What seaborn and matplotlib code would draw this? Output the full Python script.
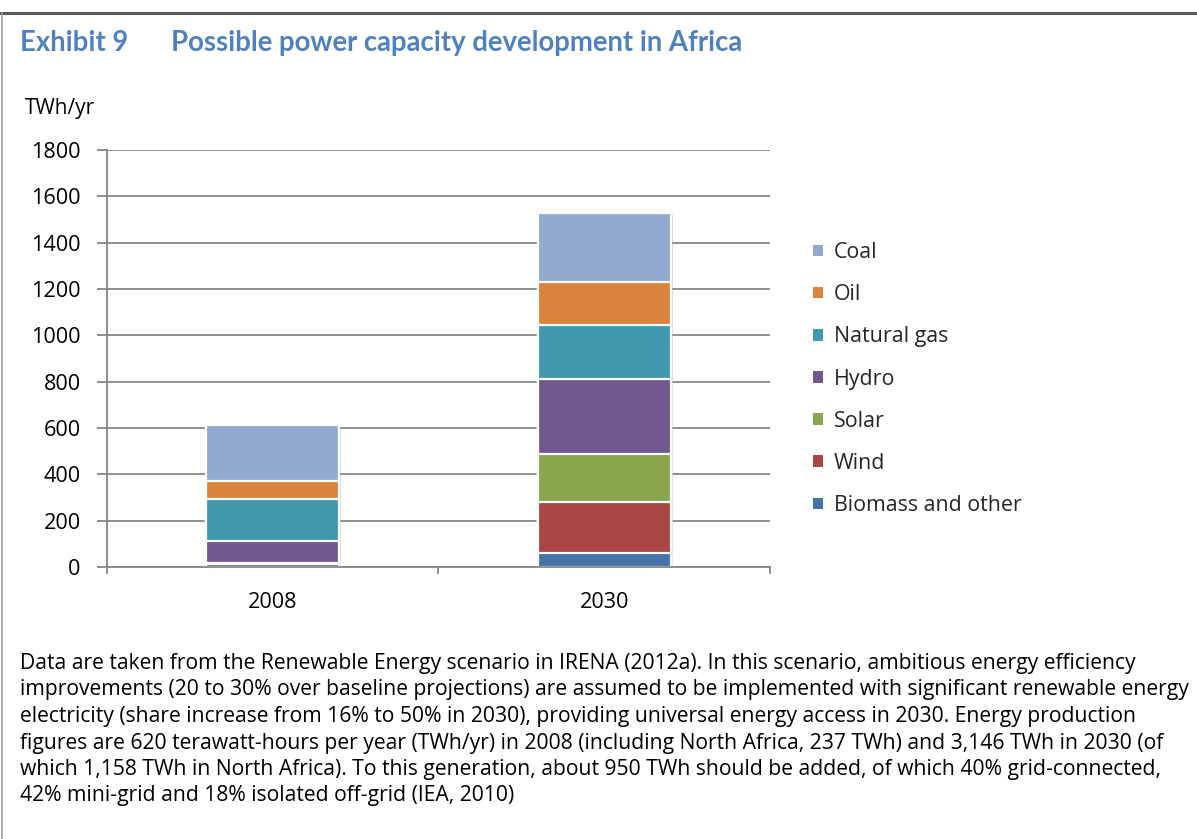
import matplotlib
matplotlib.use("Agg")
import matplotlib.pyplot as plt
from matplotlib.patches import Patch
from matplotlib.lines import Line2D
import matplotlib.patheffects as pe
import seaborn as sns
import pandas as pd

# ---- data (TWh/yr) ----
years = ["2008", "2030"]
sources = ["Biomass and other", "Wind", "Solar", "Hydro", "Natural gas", "Oil", "Coal"]
biomass = [12, 62]
wind = [3, 217]
solar = [2, 209]
hydro = [96, 325]
natural_gas = [180, 232]
oil = [77, 187]
coal = [245, 297]
y_ticks = [0, 200, 400, 600, 800, 1000, 1200, 1400, 1600, 1800]

colors = {
    "Biomass and other": "#4572A7",
    "Wind": "#AA4643",
    "Solar": "#89A54E",
    "Hydro": "#71588F",
    "Natural gas": "#4198AF",
    "Oil": "#DB843D",
    "Coal": "#93A9CF",
}

body_lines = [
    "Data are taken from the Renewable Energy scenario in IRENA (2012a). In this scenario, ambitious energy efficiency",
    "improvements (20 to 30% over baseline projections) are assumed to be implemented with significant renewable energy",
    "electricity (share increase from 16% to 50% in 2030), providing universal energy access in 2030. Energy production",
    "figures are 620 terawatt-hours per year (TWh/yr) in 2008 (including North Africa, 237 TWh) and 3,146 TWh in 2030 (of",
    "which 1,158 TWh in North Africa). To this generation, about 950 TWh should be added, of which 40% grid-connected,",
    "42% mini-grid and 18% isolated off-grid (IEA, 2010)",
]

df = pd.DataFrame({
    "year": years,
    "Biomass and other": biomass,
    "Wind": wind,
    "Solar": solar,
    "Hydro": hydro,
    "Natural gas": natural_gas,
    "Oil": oil,
    "Coal": coal,
})
cum = df[sources].cumsum(axis=1)
cum["year"] = df["year"]

sns.set_theme(style="white")
plt.rcParams['font.family'] = ['Open Sans', 'DejaVu Sans']

W, H = 1197, 839
fig = plt.figure(figsize=(W / 100, H / 100), dpi=100)
fig.patch.set_facecolor("white")

def fx(px):
    return px / W

def fy(py):
    return 1 - py / H

ax = fig.add_axes([fx(107), fy(567), fx(770) - fx(107), fy(150) - fy(567)])

grid_c = "#868686"
first = True
for src in reversed(sources):
    n_before = len(ax.patches)
    sns.barplot(data=cum, x="year", y=src, color=colors[src], width=0.4,
                saturation=1, edgecolor="white", linewidth=1.6, ax=ax, zorder=3)
    if first:
        for p in ax.patches[n_before:]:
            p.set_path_effects([pe.SimplePatchShadow(offset=(1.5, -1.5), shadow_rgbFace="#808080",
                                                     alpha=0.35), pe.Normal()])
        first = False

ax.set_ylim(0, 1800)
ax.set_xlim(-0.5, 1.5)
ax.set_yticks(y_ticks)
ax.set_xlabel("")
ax.set_ylabel("")
ax.yaxis.grid(True, color=grid_c, linewidth=1.3)
ax.xaxis.grid(False)
ax.set_axisbelow(True)
for s in ["top", "right"]:
    ax.spines[s].set_visible(False)
for s in ["left", "bottom"]:
    ax.spines[s].set_color(grid_c)
    ax.spines[s].set_linewidth(1.3)
    ax.spines[s].set_zorder(4)

ax.tick_params(axis="y", which="major", direction="out", length=7, width=1.3,
               color=grid_c, pad=12, labelsize=15.6, labelcolor="#000000", left=True)
ax.tick_params(axis="x", which="major", length=0, pad=18, labelsize=15.6, labelcolor="#000000")
ax.set_xticks([-0.5, 0.5, 1.5], minor=True)
ax.tick_params(axis="x", which="minor", direction="out", length=5, width=1.3,
               color=grid_c, bottom=True)

# legend (top entry = Coal)
handles = [Patch(facecolor=colors[s], edgecolor="none") for s in reversed(sources)]
fig.legend(handles, list(reversed(sources)), loc="upper left",
           bbox_to_anchor=(fx(813), fy(242)), frameon=False, fontsize=15.4,
           handlelength=0.47, handleheight=0.47, handletextpad=0.5,
           labelspacing=0.99, borderpad=0, borderaxespad=0)

# titles
title_c = "#4F81BD"
fig.text(fx(20), fy(51), "Exhibit 9", color=title_c, fontsize=19.8, fontweight="bold",
         ha="left", va="baseline", family=["Lato", "DejaVu Sans"])
fig.text(fx(171), fy(51), "Possible power capacity development in Africa", color=title_c,
         fontsize=19.8, fontweight="bold", ha="left", va="baseline", family=["Lato", "DejaVu Sans"])
fig.text(fx(25), fy(114), "TWh/yr", fontsize=15, color="#000000", ha="left", va="baseline")

# body text
base = 669
for i, line in enumerate(body_lines):
    fig.text(fx(20), fy(base + i * 26.5), line, fontsize=15.2, color="#000000",
             ha="left", va="baseline")

# frame lines
fig.add_artist(Line2D([0, 1], [fy(13), fy(13)], color="#595959", linewidth=2.2,
                      transform=fig.transFigure))
fig.add_artist(Line2D([fx(1.5), fx(1.5)], [fy(13), 0], color="#A0A0A0", linewidth=1.2,
                      transform=fig.transFigure))

fig.savefig("out.png", dpi=100, facecolor="white")
